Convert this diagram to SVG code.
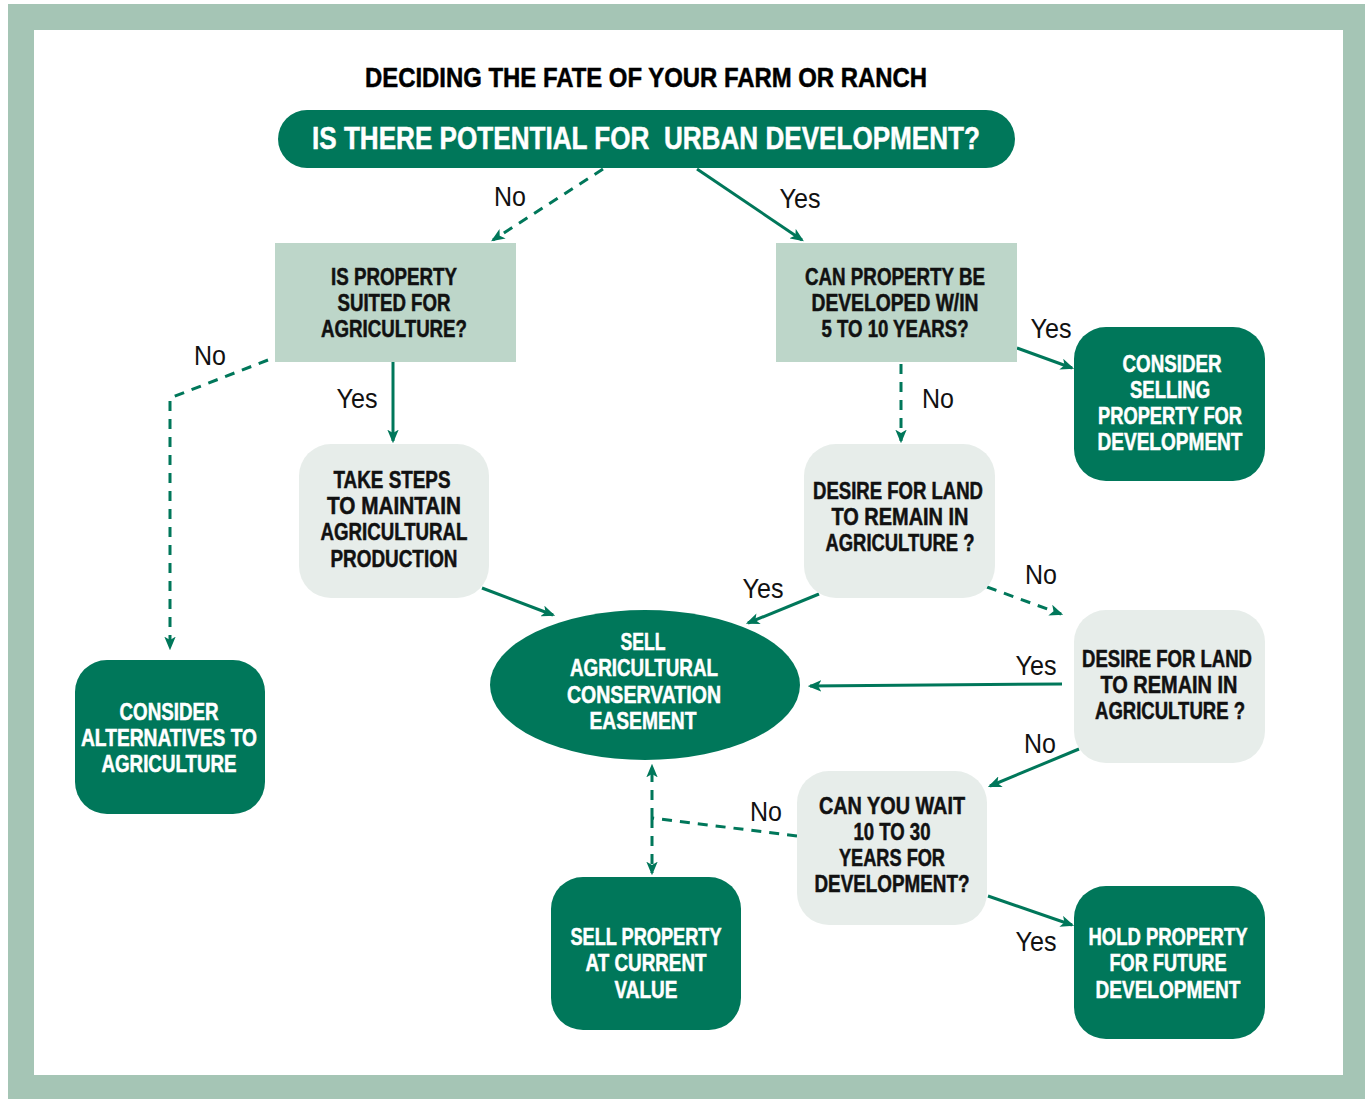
<svg xmlns="http://www.w3.org/2000/svg" width="1365" height="1099" viewBox="0 0 1365 1099">
<defs>
<style>
.frame{fill:#a5c5b5}
.dark{fill:#00775a}
.lg{fill:#bdd6c9}
.gr{fill:#e7edea}
text{font-family:"Liberation Sans",Arial,sans-serif}
.t{font-weight:bold;font-size:23px;text-anchor:middle;fill:#111;stroke:#111;stroke-width:0.5}
.w{fill:#fff;stroke:#fff}
.lbl{font-size:28px;fill:#111;text-anchor:middle}
.c{fill:none;stroke:#00775a;stroke-width:3}
.d{stroke-dasharray:10,8}
</style>
<marker id="ah" viewBox="0 0 12 10" refX="10" refY="5" markerWidth="4.6" markerHeight="3.8" orient="auto" markerUnits="strokeWidth">
<path d="M0,0 L12,5 L0,10 L3,5 z" fill="#00775a"/>
</marker>
</defs>
<rect x="0" y="0" width="1365" height="1099" fill="#fff"/>
<path class="frame" fill-rule="evenodd" d="M8,4 H1365 V1099 H8 Z M34,30 V1075 H1343 V30 Z"/>
<text x="646" y="87" class="t" style="font-size:27px;fill:#000;stroke:#000" textLength="562" lengthAdjust="spacingAndGlyphs">DECIDING THE FATE OF YOUR FARM OR RANCH</text>

<g id="connectors">
<line class="c d" x1="603" y1="169" x2="493" y2="240" marker-end="url(#ah)"/>
<line class="c" x1="697" y1="169" x2="802" y2="240" marker-end="url(#ah)"/>
<polyline class="c d" points="268,360 170,398 170,648" marker-end="url(#ah)"/>
<line class="c" x1="393" y1="362" x2="393" y2="441" marker-end="url(#ah)"/>
<line class="c" x1="1017" y1="348" x2="1072" y2="368" marker-end="url(#ah)"/>
<line class="c d" x1="901" y1="364" x2="901" y2="441" marker-end="url(#ah)"/>
<line class="c" x1="482" y1="588" x2="553" y2="615" marker-end="url(#ah)"/>
<line class="c" x1="819" y1="594" x2="748" y2="623" marker-end="url(#ah)"/>
<line class="c d" x1="987" y1="587" x2="1061" y2="614" marker-end="url(#ah)"/>
<line class="c" x1="1062" y1="684" x2="810" y2="686" marker-end="url(#ah)"/>
<line class="c" x1="1079" y1="749" x2="990" y2="786" marker-end="url(#ah)"/>
<line class="c d" x1="797" y1="836" x2="652" y2="818"/>
<line class="c d" x1="652" y1="818" x2="652" y2="766" marker-end="url(#ah)"/>
<line class="c d" x1="652" y1="818" x2="652" y2="873" marker-end="url(#ah)"/>
<line class="c" x1="988" y1="896" x2="1072" y2="925" marker-end="url(#ah)"/>
</g>

<g id="labels">
<text class="lbl" x="510" y="206" textLength="32" lengthAdjust="spacingAndGlyphs">No</text>
<text class="lbl" x="800" y="208" textLength="41" lengthAdjust="spacingAndGlyphs">Yes</text>
<text class="lbl" x="210" y="365" textLength="32" lengthAdjust="spacingAndGlyphs">No</text>
<text class="lbl" x="357" y="408" textLength="41" lengthAdjust="spacingAndGlyphs">Yes</text>
<text class="lbl" x="1051" y="338" textLength="41" lengthAdjust="spacingAndGlyphs">Yes</text>
<text class="lbl" x="938" y="408" textLength="32" lengthAdjust="spacingAndGlyphs">No</text>
<text class="lbl" x="763" y="598" textLength="41" lengthAdjust="spacingAndGlyphs">Yes</text>
<text class="lbl" x="1041" y="584" textLength="32" lengthAdjust="spacingAndGlyphs">No</text>
<text class="lbl" x="1036" y="675" textLength="41" lengthAdjust="spacingAndGlyphs">Yes</text>
<text class="lbl" x="1040" y="753" textLength="32" lengthAdjust="spacingAndGlyphs">No</text>
<text class="lbl" x="766" y="821" textLength="32" lengthAdjust="spacingAndGlyphs">No</text>
<text class="lbl" x="1036" y="951" textLength="41" lengthAdjust="spacingAndGlyphs">Yes</text>
</g>

<g id="n-urban">
<rect class="dark" x="278" y="110" width="737" height="58" rx="29"/>
<text class="t w" x="646" y="149" style="font-size:31px" xml:space="preserve" textLength="668" lengthAdjust="spacingAndGlyphs">IS THERE POTENTIAL FOR  URBAN DEVELOPMENT?</text>
</g>
<g id="n-suited">
<rect class="lg" x="275" y="243" width="241" height="119"/>
<text class="t" x="394" y="285" textLength="126" lengthAdjust="spacingAndGlyphs">IS PROPERTY</text>
<text class="t" x="394" y="311" textLength="113" lengthAdjust="spacingAndGlyphs">SUITED FOR</text>
<text class="t" x="394" y="337" textLength="146" lengthAdjust="spacingAndGlyphs">AGRICULTURE?</text>
</g>
<g id="n-developed">
<rect class="lg" x="776" y="243" width="241" height="119"/>
<text class="t" x="895" y="285" textLength="180" lengthAdjust="spacingAndGlyphs">CAN PROPERTY BE</text>
<text class="t" x="895" y="311" textLength="167" lengthAdjust="spacingAndGlyphs">DEVELOPED W/IN</text>
<text class="t" x="895" y="337" textLength="147" lengthAdjust="spacingAndGlyphs">5 TO 10 YEARS?</text>
</g>
<g id="n-consider-selling">
<rect class="dark" x="1074" y="327" width="191" height="154" rx="32"/>
<text class="t w" x="1172" y="372" textLength="99" lengthAdjust="spacingAndGlyphs">CONSIDER</text>
<text class="t w" x="1170" y="398" textLength="80" lengthAdjust="spacingAndGlyphs">SELLING</text>
<text class="t w" x="1170" y="424" textLength="144" lengthAdjust="spacingAndGlyphs">PROPERTY FOR</text>
<text class="t w" x="1170" y="450" textLength="145" lengthAdjust="spacingAndGlyphs">DEVELOPMENT</text>
</g>
<g id="n-take-steps">
<rect class="gr" x="299" y="444" width="190" height="154" rx="32"/>
<text class="t" x="392" y="488" textLength="117" lengthAdjust="spacingAndGlyphs">TAKE STEPS</text>
<text class="t" x="394" y="514" textLength="134" lengthAdjust="spacingAndGlyphs">TO MAINTAIN</text>
<text class="t" x="394" y="540" textLength="147" lengthAdjust="spacingAndGlyphs">AGRICULTURAL</text>
<text class="t" x="394" y="567" textLength="127" lengthAdjust="spacingAndGlyphs">PRODUCTION</text>
</g>
<g id="n-desire1">
<rect class="gr" x="804" y="444" width="191" height="154" rx="32"/>
<text class="t" x="898" y="499" textLength="170" lengthAdjust="spacingAndGlyphs">DESIRE FOR LAND</text>
<text class="t" x="900" y="525" textLength="137" lengthAdjust="spacingAndGlyphs">TO REMAIN IN</text>
<text class="t" x="900" y="551" textLength="149" lengthAdjust="spacingAndGlyphs">AGRICULTURE ?</text>
</g>
<g id="n-easement">
<ellipse class="dark" cx="645" cy="685" rx="155" ry="75"/>
<text class="t w" x="643" y="650" textLength="45" lengthAdjust="spacingAndGlyphs">SELL</text>
<text class="t w" x="644" y="676" textLength="148" lengthAdjust="spacingAndGlyphs">AGRICULTURAL</text>
<text class="t w" x="644" y="703" textLength="154" lengthAdjust="spacingAndGlyphs">CONSERVATION</text>
<text class="t w" x="643" y="729" textLength="107" lengthAdjust="spacingAndGlyphs">EASEMENT</text>
</g>
<g id="n-desire2">
<rect class="gr" x="1074" y="610" width="191" height="153" rx="32"/>
<text class="t" x="1167" y="667" textLength="170" lengthAdjust="spacingAndGlyphs">DESIRE FOR LAND</text>
<text class="t" x="1169" y="693" textLength="137" lengthAdjust="spacingAndGlyphs">TO REMAIN IN</text>
<text class="t" x="1170" y="719" textLength="150" lengthAdjust="spacingAndGlyphs">AGRICULTURE ?</text>
</g>
<g id="n-alternatives">
<rect class="dark" x="75" y="660" width="190" height="154" rx="32"/>
<text class="t w" x="169" y="720" textLength="99" lengthAdjust="spacingAndGlyphs">CONSIDER</text>
<text class="t w" x="169" y="746" textLength="176" lengthAdjust="spacingAndGlyphs">ALTERNATIVES TO</text>
<text class="t w" x="169" y="772" textLength="135" lengthAdjust="spacingAndGlyphs">AGRICULTURE</text>
</g>
<g id="n-wait">
<rect class="gr" x="797" y="771" width="190" height="154" rx="32"/>
<text class="t" x="892" y="814" textLength="146" lengthAdjust="spacingAndGlyphs">CAN YOU WAIT</text>
<text class="t" x="892" y="840" textLength="77" lengthAdjust="spacingAndGlyphs">10 TO 30</text>
<text class="t" x="892" y="866" textLength="106" lengthAdjust="spacingAndGlyphs">YEARS FOR</text>
<text class="t" x="892" y="892" textLength="155" lengthAdjust="spacingAndGlyphs">DEVELOPMENT?</text>
</g>
<g id="n-sell-current">
<rect class="dark" x="551" y="877" width="190" height="153" rx="32"/>
<text class="t w" x="646" y="945" textLength="151" lengthAdjust="spacingAndGlyphs">SELL PROPERTY</text>
<text class="t w" x="646" y="971" textLength="121" lengthAdjust="spacingAndGlyphs">AT CURRENT</text>
<text class="t w" x="646" y="998" textLength="63" lengthAdjust="spacingAndGlyphs">VALUE</text>
</g>
<g id="n-hold">
<rect class="dark" x="1074" y="886" width="191" height="153" rx="32"/>
<text class="t w" x="1168" y="945" textLength="159" lengthAdjust="spacingAndGlyphs">HOLD PROPERTY</text>
<text class="t w" x="1168" y="971" textLength="117" lengthAdjust="spacingAndGlyphs">FOR FUTURE</text>
<text class="t w" x="1168" y="998" textLength="145" lengthAdjust="spacingAndGlyphs">DEVELOPMENT</text>
</g>
</svg>
